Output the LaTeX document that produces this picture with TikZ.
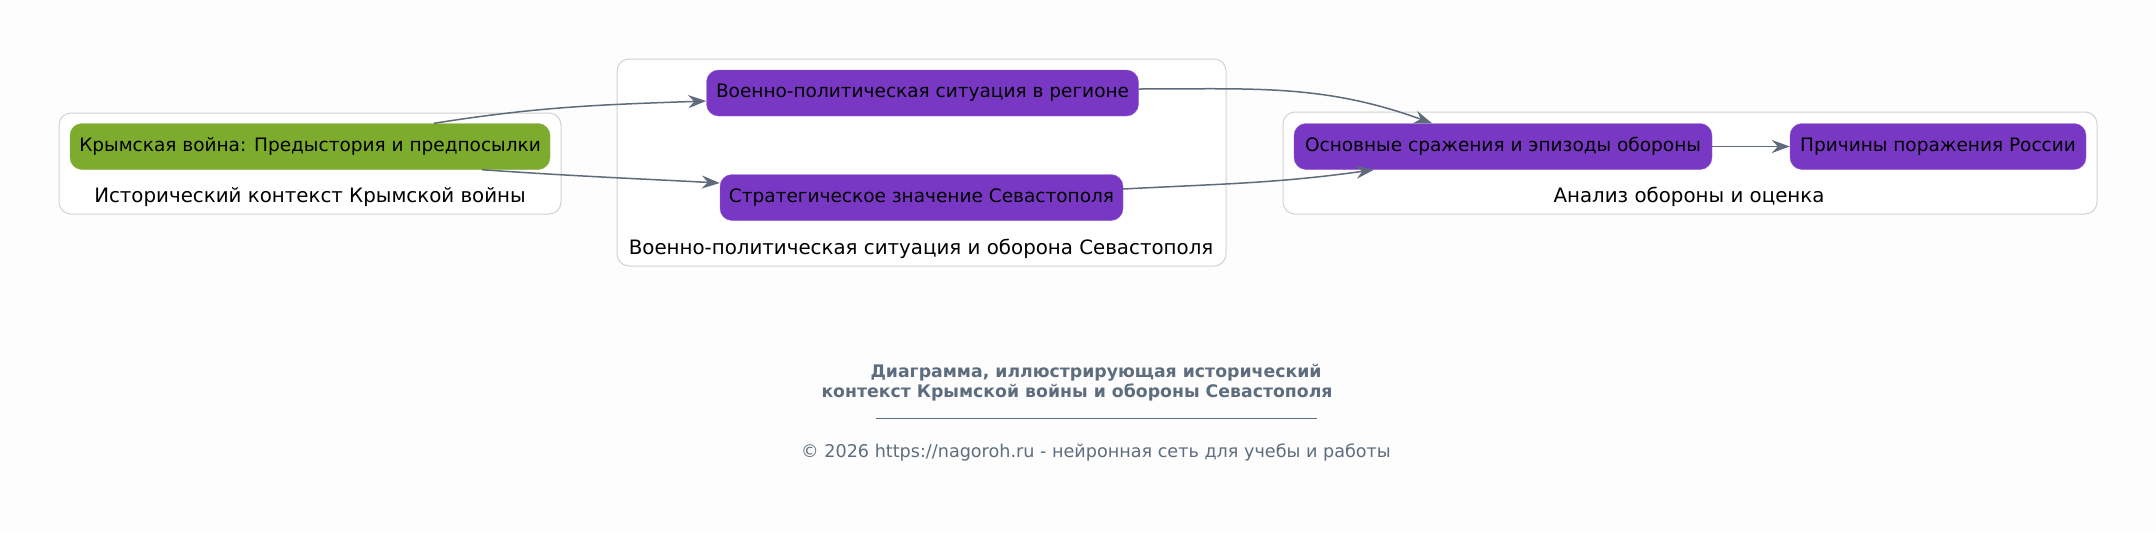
\documentclass[tikz,border=0pt]{standalone}
\usepackage{fontspec}
\setmainfont{DejaVu Sans}
\usetikzlibrary{arrows.meta,calc}
\definecolor{bg}{RGB}{253,253,253}
\definecolor{gnode}{RGB}{125,171,45}
\definecolor{pnode}{RGB}{120,56,196}
\definecolor{edgec}{RGB}{95,107,122}
\definecolor{clus}{RGB}{210,210,210}
\definecolor{titlec}{RGB}{93,109,126}
\tikzset{
  box/.style={rectangle, rounded corners=12pt, inner sep=0pt, font=\fontsize{18.5}{22}\selectfont, text=black, minimum height=46pt},
  greenbox/.style={box, fill=gnode, draw=gnode!90!white},
  purplebox/.style={box, fill=pnode, draw=pnode!80!white},
  cluster/.style={draw=clus, line width=1pt, rounded corners=12pt, fill=white},
  clabel/.style={font=\fontsize{19.8}{24}\selectfont, text=black, inner sep=0pt},
  conn/.style={draw=edgec, line width=1.5pt, -{Stealth[length=18pt,width=13pt,inset=6pt]}},
  ttl/.style={font=\fontsize{17.3}{20}\bfseries\selectfont, text=titlec, inner sep=0pt},
  copy/.style={font=\fontsize{17.6}{20}\selectfont, text=titlec, inner sep=0pt}
}
\begin{document}
\begin{tikzpicture}[x=1pt,y=-1pt]
\fill[bg] (0,0) rectangle (2156,533);
\useasboundingbox (0,0) rectangle (2156,533);
% clusters
\draw[cluster] (59,113) rectangle (561,214);
\draw[cluster] (617,59) rectangle (1226,266);
\draw[cluster] (1283,112) rectangle (2097,214);
\node[clabel] (l1) at (310,197) {Исторический контекст Крымской войны};
\node[clabel] (l2) at (921,249) {Военно-политическая ситуация и оборона Севастополя};
\node[clabel] (l3) at (1689,197) {Анализ обороны и оценка};
% nodes
\node[greenbox, minimum width=480pt] (g) at (310,146.5) {Крымская война: Предыстория и предпосылки};
\node[purplebox, minimum width=432pt] (vp) at (922.5,93) {Военно-политическая ситуация в регионе};
\node[purplebox, minimum width=403pt] (sz) at (921.5,197.5) {Стратегическое значение Севастополя};
\node[purplebox, minimum width=418pt] (os) at (1503,146.5) {Основные сражения и эпизоды обороны};
\node[purplebox, minimum width=296pt] (pp) at (1938,146.5) {Причины поражения России};
% connectors
\draw[conn] ([xshift=124pt]g.north) to[out=9,in=182] ([yshift=-8pt]vp.west);
\draw[conn] ([xshift=172pt]g.south) to[out=-4,in=177] ([yshift=14.5pt]sz.west);
\draw[conn] ([yshift=4pt]vp.east) to[out=0,in=160] ([xshift=-71pt]os.north);
\draw[conn] ([yshift=8.5pt]sz.east) to[out=3,in=188] ([xshift=-129pt]os.south);
\draw[conn] (os.east) -- (pp.west);
% title
\node[ttl] (t1) at (1096,373) {Диаграмма, иллюстрирующая исторический};
\node[ttl] (t2) at (1077,392) {контекст Крымской войны и обороны Севастополя};
\coordinate (r1) at (876,418);
\coordinate (r2) at (1317,418);
\draw[draw=titlec, line width=1pt] (r1) -- (r2);
\node[copy] (cp) at (1096,452) {© 2026 https://nagoroh.ru - нейронная сеть для учебы и работы};
\end{tikzpicture}
\end{document}
